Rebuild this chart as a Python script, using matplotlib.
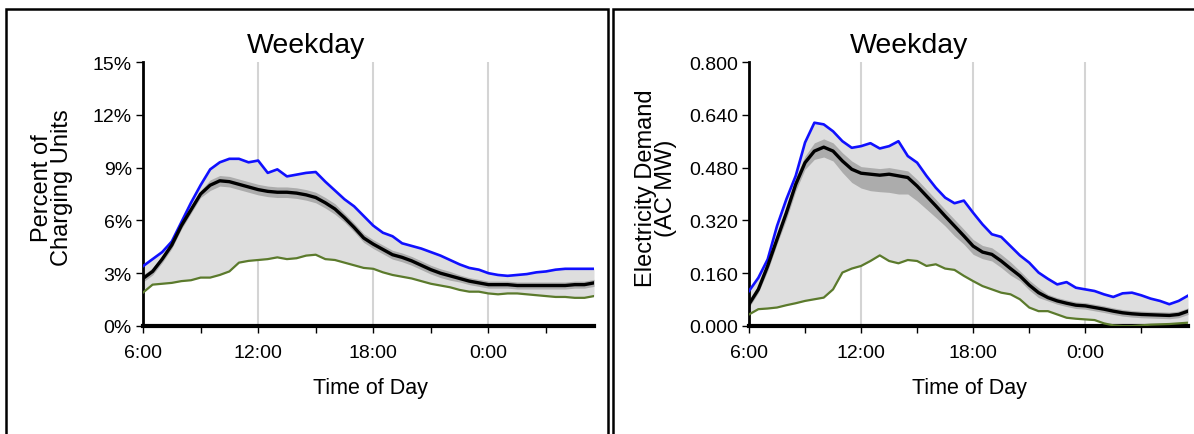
import numpy as np
import matplotlib.pyplot as plt
from matplotlib.patches import Rectangle
from matplotlib.ticker import FuncFormatter

plt.rcParams['font.family'] = ['Liberation Sans', 'DejaVu Sans']

# half-hour steps from 6:00 to 5:30 next day
hours = np.arange(6, 30, 0.5)

# left panel: percent of charging units
pct_max = [3.4, 3.8, 4.2, 4.8, 5.9, 7.0, 8.0, 8.9, 9.3, 9.5, 9.5, 9.3, 9.4, 8.7, 8.9, 8.5,
           8.6, 8.7, 8.75, 8.2, 7.7, 7.2, 6.8, 6.25, 5.7, 5.3, 5.1, 4.7, 4.55, 4.4, 4.2, 4.0,
           3.75, 3.5, 3.3, 3.2, 3.0, 2.9, 2.85, 2.9, 2.95, 3.05, 3.1, 3.2, 3.25, 3.25, 3.25, 3.25]
pct_mean = [2.7, 3.1, 3.8, 4.6, 5.7, 6.6, 7.5, 8.0, 8.25, 8.2, 8.05, 7.9, 7.75, 7.65, 7.6, 7.6,
            7.55, 7.45, 7.3, 7.0, 6.65, 6.15, 5.6, 5.0, 4.65, 4.35, 4.05, 3.9, 3.7, 3.45, 3.2, 3.0,
            2.85, 2.7, 2.55, 2.45, 2.35, 2.35, 2.35, 2.3, 2.3, 2.3, 2.3, 2.3, 2.3, 2.35, 2.35, 2.45]
pct_min = [1.9, 2.35, 2.4, 2.45, 2.55, 2.6, 2.75, 2.75, 2.9, 3.1, 3.6, 3.7, 3.75, 3.8, 3.9, 3.8,
           3.85, 4.0, 4.05, 3.8, 3.75, 3.6, 3.45, 3.3, 3.25, 3.05, 2.9, 2.8, 2.7, 2.55, 2.4, 2.3,
           2.2, 2.05, 1.95, 1.95, 1.85, 1.8, 1.85, 1.85, 1.8, 1.75, 1.7, 1.65, 1.65, 1.6, 1.6, 1.7]
pct_ci = [0.2, 0.2, 0.2, 0.2, 0.2, 0.2, 0.2, 0.3, 0.3, 0.3, 0.3, 0.3, 0.3, 0.3, 0.3, 0.3,
          0.3, 0.3, 0.3, 0.3, 0.3, 0.25, 0.25, 0.25, 0.25, 0.25, 0.25, 0.25, 0.25, 0.25, 0.25, 0.25,
          0.25, 0.2, 0.2, 0.2, 0.2, 0.2, 0.2, 0.2, 0.2, 0.2, 0.2, 0.2, 0.2, 0.2, 0.2, 0.2]

# right panel: electricity demand (AC MW)
mw_max = [0.106, 0.146, 0.202, 0.303, 0.384, 0.455, 0.556, 0.616, 0.611, 0.59, 0.56, 0.54,
          0.545, 0.554, 0.538, 0.545, 0.56, 0.515, 0.495, 0.455, 0.419, 0.389, 0.372, 0.38,
          0.343, 0.308, 0.278, 0.27, 0.242, 0.214, 0.192, 0.162, 0.143, 0.126, 0.133, 0.116,
          0.111, 0.106, 0.096, 0.088, 0.099, 0.101, 0.093, 0.083, 0.076, 0.066, 0.076, 0.092]
mw_mean = [0.066, 0.111, 0.182, 0.263, 0.343, 0.429, 0.495, 0.53, 0.542, 0.53, 0.50, 0.475,
           0.463, 0.46, 0.457, 0.46, 0.455, 0.45, 0.424, 0.394, 0.364, 0.333, 0.303, 0.273,
           0.242, 0.224, 0.217, 0.197, 0.174, 0.152, 0.124, 0.101, 0.086, 0.076, 0.069, 0.063,
           0.061, 0.056, 0.051, 0.045, 0.04, 0.037, 0.035, 0.034, 0.033, 0.032, 0.035, 0.045]
mw_min = [0.035, 0.051, 0.053, 0.056, 0.063, 0.069, 0.076, 0.081, 0.086, 0.111, 0.162, 0.174,
          0.182, 0.197, 0.214, 0.197, 0.19, 0.20, 0.197, 0.182, 0.187, 0.174, 0.17, 0.152,
          0.136, 0.121, 0.111, 0.101, 0.096, 0.081, 0.056, 0.045, 0.045, 0.035, 0.025, 0.022,
          0.02, 0.018, 0.008, 0.002, 0.0, 0.0, 0.002, 0.004, 0.005, 0.006, 0.008, 0.01]
mw_ci_up = [0.01, 0.01, 0.015, 0.015, 0.02, 0.02, 0.02, 0.025, 0.025, 0.025, 0.025, 0.025,
            0.02, 0.02, 0.02, 0.02, 0.02, 0.02, 0.02, 0.02, 0.02, 0.02, 0.02, 0.02,
            0.02, 0.02, 0.02, 0.02, 0.02, 0.015, 0.015, 0.015, 0.01, 0.01, 0.01, 0.01,
            0.01, 0.01, 0.01, 0.01, 0.01, 0.01, 0.01, 0.01, 0.01, 0.01, 0.01, 0.01]
mw_ci_dn = [0.01, 0.01, 0.015, 0.015, 0.02, 0.02, 0.02, 0.025, 0.03, 0.03, 0.035, 0.04,
            0.045, 0.05, 0.05, 0.055, 0.055, 0.05, 0.045, 0.04, 0.035, 0.03, 0.03, 0.025,
            0.025, 0.02, 0.02, 0.02, 0.02, 0.015, 0.015, 0.015, 0.01, 0.01, 0.01, 0.01,
            0.01, 0.01, 0.01, 0.01, 0.01, 0.01, 0.01, 0.01, 0.01, 0.01, 0.01, 0.01]

xticks = [6, 12, 18, 24]
xticklabels = ['6:00', '12:00', '18:00', '0:00']

fig = plt.figure(figsize=(11.94, 4.35), dpi=100)
W, H = 1194, 435


def fx(px):
    return px / W


def fy(py):
    return 1 - py / H


# panel frames
fig.patches.append(Rectangle((fx(6), fy(440)), fx(602), fy(10) - fy(440), transform=fig.transFigure,
                             fill=False, edgecolor='black', linewidth=1.8))
fig.patches.append(Rectangle((fx(613), fy(440)), fx(600), fy(10) - fy(440), transform=fig.transFigure,
                             fill=False, edgecolor='black', linewidth=1.8))


def draw_panel(ax, hi, mean, lo, band_lo, band_hi, ymax, yticks, fmt):
    ax.fill_between(hours, lo, hi, color='#dedede', linewidth=0, zorder=1)
    ax.fill_between(hours, band_lo, band_hi, color='#acacac', linewidth=0, zorder=2)
    ax.plot(hours, hi, color='#1010ff', linewidth=1.9, zorder=3)
    ax.plot(hours, lo, color='#5b7a2c', linewidth=1.6, zorder=3)
    ax.plot(hours, mean, color='black', linewidth=2.4, zorder=4)
    for g in [12, 18, 24]:
        ax.axvline(g, color='#d4d4d4', linewidth=1.5, zorder=0)
    ax.set_xlim(6, 29.5)
    ax.set_ylim(0, ymax)
    ax.set_xticks(xticks)
    ax.set_xticklabels(xticklabels)
    ax.set_xticks([9, 15, 21, 27], minor=True)
    ax.set_yticks(yticks)
    ax.yaxis.set_major_formatter(FuncFormatter(fmt))
    for s in ['top', 'right']:
        ax.spines[s].set_visible(False)
    ax.spines['left'].set_linewidth(2)
    ax.spines['bottom'].set_linewidth(3)
    ax.tick_params(axis='both', which='both', direction='out', width=1, labelsize=14)
    ax.tick_params(axis='x', which='both', length=5, pad=8)
    ax.tick_params(axis='y', length=5, pad=3)


ax1 = fig.add_axes([fx(143), fy(327), fx(594 - 143), fy(63) - fy(327)])
draw_panel(ax1, pct_max, pct_mean, pct_min,
           np.array(pct_mean) - np.array(pct_ci), np.array(pct_mean) + np.array(pct_ci),
           15, [0, 3, 6, 9, 12, 15], lambda v, p: f'{v:.0f}%')

ax2 = fig.add_axes([fx(749), fy(327), fx(1188 - 749), fy(63) - fy(327)])
draw_panel(ax2, mw_max, mw_mean, mw_min,
           np.array(mw_mean) - np.array(mw_ci_dn), np.array(mw_mean) + np.array(mw_ci_up),
           0.8, [0, 0.16, 0.32, 0.48, 0.64, 0.8], lambda v, p: f'{v:.3f}')

# titles and axis labels
fig.text(fx(306), fy(46), 'Weekday', ha='center', va='center', fontsize=20.5)
fig.text(fx(909), fy(46), 'Weekday', ha='center', va='center', fontsize=20.5)
fig.text(fx(370), fy(389), 'Time of Day', ha='center', va='center', fontsize=15.5)
fig.text(fx(969), fy(389), 'Time of Day', ha='center', va='center', fontsize=15.5)
fig.text(fx(52), fy(188), 'Percent of\nCharging Units', ha='center', va='center', rotation=90,
         fontsize=17, linespacing=0.9)
fig.text(fx(656), fy(188), 'Electricity Demand\n(AC MW)', ha='center', va='center', rotation=90,
         fontsize=17, linespacing=0.9)

fig.savefig('out.png', dpi=100)
